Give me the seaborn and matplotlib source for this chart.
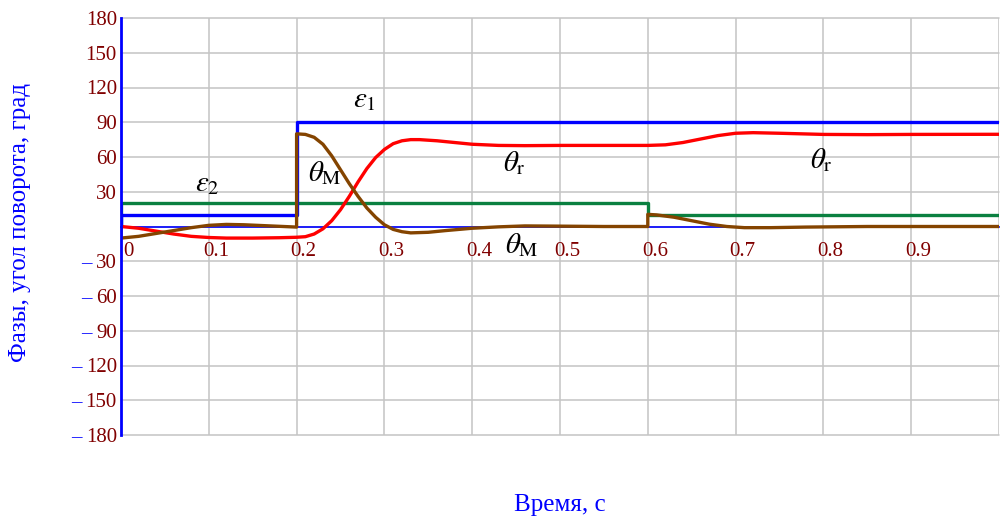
import numpy as np
import pandas as pd
import matplotlib
matplotlib.use("Agg")
import matplotlib.pyplot as plt
from matplotlib.transforms import ScaledTranslation
import seaborn as sns

# уставки (ступенчатые)
eps1_t = [0.0, 0.0, 0.2, 0.2, 1.0]
eps1_v = [0, 10, 10, 90, 90]
eps2_t = [0.0, 0.0, 0.6, 0.6, 1.0]
eps2_v = [0, 20, 20, 10, 10]

# фаза генератора
theta_r_t = [0.0, 0.02, 0.04, 0.06, 0.08, 0.10, 0.12, 0.15, 0.18, 0.20, 0.21, 0.22, 0.23,
             0.24, 0.25, 0.26, 0.27, 0.28, 0.29, 0.30, 0.31, 0.32, 0.33, 0.34, 0.36, 0.38,
             0.40, 0.43, 0.46, 0.50, 0.55, 0.60, 0.62, 0.64, 0.66, 0.68, 0.70, 0.72, 0.75,
             0.80, 0.85, 0.90, 1.0]
theta_r_v = [0, -1.5, -4, -6.5, -8.5, -9.5, -10, -10, -9.7, -9.3, -8.8, -6.5, -2,
             5, 14.5, 26, 38.5, 50, 59.5, 66.5, 71.5, 74, 75, 75, 74, 72.5,
             71, 70, 69.8, 70, 70, 70, 70.5, 72.5, 75.5, 78.5, 80.5, 81, 80.5,
             79.5, 79.3, 79.5, 79.6]

# фаза мотора
theta_m_t = [0.0, 0.0, 0.02, 0.04, 0.06, 0.08, 0.10, 0.12, 0.14, 0.17, 0.20, 0.20, 0.21,
             0.22, 0.23, 0.24, 0.25, 0.26, 0.27, 0.28, 0.29, 0.30, 0.31, 0.32, 0.33, 0.35,
             0.37, 0.40, 0.43, 0.46, 0.50, 0.55, 0.60, 0.60, 0.61, 0.63, 0.65, 0.67, 0.69,
             0.71, 0.74, 0.78, 0.85, 1.0]
theta_m_v = [0, -10, -8.5, -6, -3.5, -1, 1, 1.8, 1.5, 0.5, -0.5, 80, 79.5,
             77, 71, 61, 49, 37, 26, 16, 8, 1.5, -2.5, -4.5, -5.5, -5,
             -3.5, -1.5, -0.3, 0.5, 0.3, 0, 0, 10.5, 10, 8, 5, 2, 0,
             -1, -1, -0.5, 0, 0]

x_ticks = [0.0, 0.1, 0.2, 0.3, 0.4, 0.5, 0.6, 0.7, 0.8, 0.9, 1.0]
x_labels = ["0", "0.1", "0.2", "0.3", "0.4", "0.5", "0.6", "0.7", "0.8", "0.9", ""]
y_ticks = list(range(-180, 181, 30))

sns.set_style("white")
plt.rcParams["font.family"] = ["Liberation Serif", "DejaVu Serif"]
plt.rcParams["mathtext.fontset"] = "stix"

BLUE = "#0000ff"
DARKRED = "#800000"

fig = plt.figure(figsize=(10.01, 5.17), dpi=100)
ax = fig.add_axes([121 / 1001, 82 / 517, 878 / 1001, 417 / 517])

series = [
    (eps2_t, eps2_v, "#0a8040"),
    (eps1_t, eps1_v, BLUE),
    (theta_r_t, theta_r_v, "#ff0000"),
    (theta_m_t, theta_m_v, "#844400"),
]
for t, v, c in series:
    df = pd.DataFrame({"t": t, "v": v})
    sns.lineplot(data=df, x="t", y="v", estimator=None, sort=False, color=c, lw=2.4, ax=ax)

ax.set_xlim(0, 1)
ax.set_ylim(-180, 180)
ax.set_xticks(x_ticks)
ax.set_xticklabels(x_labels)
ax.set_yticks(y_ticks)
ax.set_yticklabels(["" if v == 0 else str(abs(v)) for v in y_ticks])
ax.set_xlabel("")
ax.set_ylabel("")

ax.grid(True, color="#c4c4c4", lw=1.1)
for gl in ax.get_xgridlines() + ax.get_ygridlines():
    gl.set_clip_on(False)
ax.set_axisbelow(True)

for s in ["top", "right"]:
    ax.spines[s].set_visible(False)
ax.spines["left"].set_color(BLUE)
ax.spines["left"].set_linewidth(2)
ax.spines["left"].set_zorder(5)
ax.spines["bottom"].set_position(("data", 0))
ax.spines["bottom"].set_color(BLUE)
ax.spines["bottom"].set_linewidth(1.2)
ax.spines["bottom"].set_zorder(1)

ax.tick_params(axis="x", direction="inout", length=6, width=1.5, color=BLUE,
               labelsize=15, labelcolor=DARKRED, pad=8)
ax.tick_params(axis="y", direction="in", length=5, width=1.5, color=BLUE,
               labelsize=15, labelcolor=DARKRED, pad=3)

for lab in ax.get_xticklabels():
    lab.set_transform(lab.get_transform() + ScaledTranslation(7 / 100, 0, fig.dpi_scale_trans))

# подписи кривых
txt = dict(fontsize=21, color="black", ha="center", va="center")
ax.text(0.277, 109, r"$\varepsilon_1$", **txt)
ax.text(0.098, 37, r"$\varepsilon_2$", **txt)
ax.text(0.232, 46, r"$\theta_{\mathrm{M}}$", **txt)
ax.text(0.448, 55, r"$\theta_{\mathrm{r}}$", **txt)
ax.text(0.457, -16, r"$\theta_{\mathrm{M}}$", **txt)
ax.text(0.798, 57, r"$\theta_{\mathrm{r}}$", **txt)

fig.text(560 / 1001, 1 - 505 / 517, "Время, с", color=BLUE, fontsize=18, ha="center", va="center")
fig.text(20 / 1001, 1 - 222 / 517, "Фазы, угол поворота, град", color=BLUE, fontsize=18,
         ha="center", va="center", rotation=90)

# синие знаки минуса перед отрицательными метками
fig.canvas.draw()
renderer = fig.canvas.get_renderer()
for v, lab in zip(y_ticks, ax.get_yticklabels()):
    if v < 0:
        bb = lab.get_window_extent(renderer)
        shift = ScaledTranslation(-(bb.width + 4) / 100, 0, fig.dpi_scale_trans)
        x0, y0 = lab.get_position()
        ax.text(x0, y0, "\u2013", transform=lab.get_transform() + shift, color=BLUE,
                fontsize=15, ha="right", va=lab.get_va())

fig.savefig("out.png", dpi=100)
